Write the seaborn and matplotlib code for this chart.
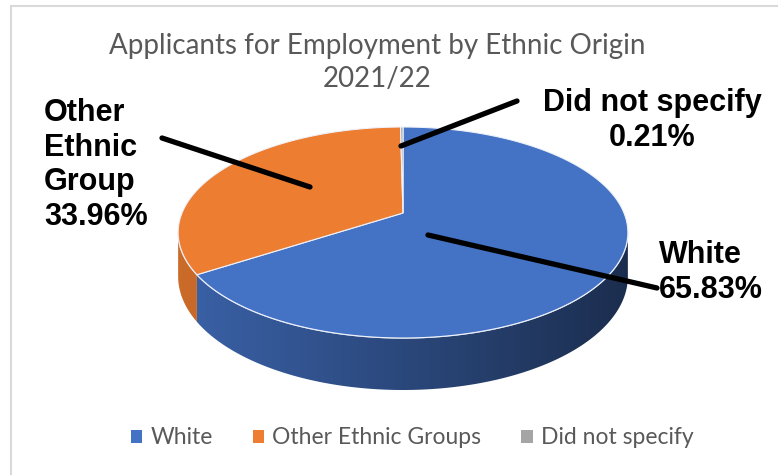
import numpy as np
import matplotlib
matplotlib.use("Agg")
import matplotlib.pyplot as plt
from matplotlib.patches import Polygon
import matplotlib.patches as mpatches
import seaborn as sns

# ---------------- data ----------------
categories = ["White", "Other Ethnic Groups", "Did not specify"]
shares = [65.83, 33.96, 0.21]
label_texts = ["White\n65.83%", "Other\nEthnic\nGroup\n33.96%", "Did not specify\n0.21%"]
title_lines = ["Applicants for Employment by Ethnic Origin", "2021/22"]

sns.set_theme(style="white")
plt.rcParams['font.family'] = ['Lato', 'DejaVu Sans']

top_colors = sns.color_palette(["#4472C4", "#ED7D31", "#A5A5A5"])

W, H = 778, 475
fig = plt.figure(figsize=(W / 100, H / 100), dpi=100)
fig.patch.set_facecolor("white")
ax = fig.add_axes([0, 0, 1, 1])
ax.set_xlim(0, W)
ax.set_ylim(H, 0)
ax.axis("off")

# pie computed by matplotlib, then re-projected in 3D perspective
pax = fig.add_axes([0, 0, 0.01, 0.01])
wedges, _ = pax.pie(shares, startangle=90, counterclock=False, colors=top_colors)
wedge_info = [(w.theta1, w.theta2, w.r, w.center, w.get_facecolor()) for w in wedges]
pax.remove()

CX, S, Q, P, R, DEPTH = 403.0, 221.0, 213.0, -62.53, 0.1848, 42.4
XMIN, XMAX = CX - 225, CX + 225


def proj(x, z, drop=0.0):
    den = 1 + R * z
    return CX + S * x / den, (Q + P * z + drop) / den


vis_lo = -180 + np.degrees(np.arcsin(R))
vis_hi = -np.degrees(np.arcsin(R))

# --- sides (drawn first), shaded with a horizontal gradient ---
for t1, t2, r, c, col in wedge_info:
    rgb = np.array(col[:3])
    for shift in (-360, 0, 360):
        a = max(t1 + shift, vis_lo)
        b = min(t2 + shift, vis_hi)
        if b <= a:
            continue
        ts = np.radians(np.linspace(a, b, 200))
        xs = c[0] + r * np.cos(ts)
        zs = c[1] + r * np.sin(ts)
        tx, ty = proj(xs, zs)
        bx, by = proj(xs, zs, DEPTH)
        verts = np.column_stack([np.concatenate([tx, bx[::-1]]),
                                 np.concatenate([ty, by[::-1]])])
        poly = Polygon(verts, closed=True, facecolor="none", edgecolor="none")
        ax.add_patch(poly)
        x0, x1 = verts[:, 0].min() - 1, verts[:, 0].max() + 1
        y0, y1 = verts[:, 1].min() - 1, verts[:, 1].max() + 1
        cols = np.linspace(x0, x1, 400)
        f = (cols - XMIN) / (XMAX - XMIN)
        grad = np.clip(rgb[None, :] * (0.86 - 0.46 * f)[:, None], 0, 1)
        img = np.repeat(grad[None, :, :], 2, axis=0)
        im = ax.imshow(img, extent=(x0, x1, y1, y0), origin="upper", aspect="auto",
                       interpolation="bilinear", zorder=2)
        im.set_clip_path(poly)

ax.set_xlim(0, W)
ax.set_ylim(H, 0)

# front rim highlight line
ts = np.radians(np.linspace(vis_lo, vis_hi, 300))
rx, ry = proj(np.cos(ts), np.sin(ts))
ax.plot(rx, ry, color="#dfe6f3", lw=1.0, zorder=3)

# --- top surface ---
for t1, t2, r, c, col in wedge_info:
    ts = np.radians(np.linspace(t1, t2, max(3, int(t2 - t1) * 2)))
    xs = np.concatenate([[c[0]], c[0] + r * np.cos(ts)])
    zs = np.concatenate([[c[1]], c[1] + r * np.sin(ts)])
    px, py = proj(xs, zs)
    ax.add_patch(Polygon(np.column_stack([px, py]), closed=True, facecolor=col,
                         edgecolor="#eef2fa", lw=0.8, zorder=4))

# --- leader lines ---
leaders = [((428, 235), (657, 288)), ((310, 187), (162, 138)), ((401, 146), (517, 101))]
for (x0, y0), (x1, y1) in leaders:
    ax.plot([x0, x1], [y0, y1], color="black", lw=3.8, solid_capstyle="round", zorder=6)

lab_font = dict(family=["Liberation Sans", "DejaVu Sans"], weight="bold", size=22, color="black",
                linespacing=1.2, zorder=7)
ax.text(659, 240, label_texts[0], ha="left", va="top", **lab_font)
ax.text(44, 98, label_texts[1], ha="left", va="top", **lab_font)
ax.text(652, 88, label_texts[2], ha="center", va="top", multialignment="center", **lab_font)

# --- title ---
ax.text(377, 46, title_lines[0], ha="center", va="center", fontsize=20, color="#595959")
ax.text(377, 79, title_lines[1], ha="center", va="center", fontsize=20, color="#595959")

# --- legend ---
handles = [mpatches.Patch(facecolor=c, edgecolor="none") for c in top_colors]
leg = ax.legend(handles, categories, loc="center", bbox_to_anchor=(412 / W, 1 - 438 / H),
                bbox_transform=fig.transFigure, ncol=3, frameon=False, fontsize=16.5,
                handlelength=0.5, handleheight=0.5, handletextpad=0.35, columnspacing=1.75,
                labelcolor="#595959")

# --- border ---
ax.plot([11.5, 11.5], [5.5, H], color="#d9d9d9", lw=1.5)
ax.plot([11.5, W], [5.5, 5.5], color="#d9d9d9", lw=1.5)

fig.savefig("out.png", dpi=100, facecolor="white")
